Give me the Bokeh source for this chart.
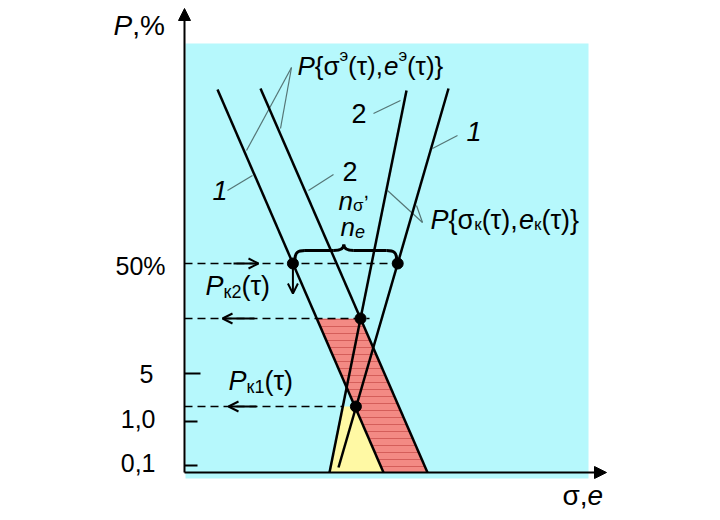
from bokeh.plotting import figure
from bokeh.models import Range1d, Arrow, NormalHead, OpenHead
from bokeh.core.properties import value
from bokeh.embed import file_html
from bokeh.resources import INLINE

FONT = "Liberation Sans"
TEXT_SHIFT = -10

# ---- schematic data (page-pixel coordinates, y grows downward) ----
panel_x = [185, 588]
panel_y = [43, 478]
axis_origin = [184, 472]
axis_x_end = 606
axis_y_end = 8

tick_labels = ["50%", "5", "1,0", "0,1"]
tick_y = [263, 373, 421, 465]
tick_len = [0, 16, 13, 13]
tick_label_right = [165, 153, 155, 155]
tick_label_base = [275, 383, 428, 472]

# four straight lines: sigma_e 1, sigma_e 2, sigma_k 2, sigma_k 1
line_names = ["e1", "e2", "k2", "k1"]
line_x0 = [217, 260, 406, 448]
line_y0 = [89, 88, 90, 88]
line_x1 = [383, 427, 329, 338]
line_y1 = [472, 472, 472, 467]

level_50 = 263
level_pk2 = 318
level_pk1 = 406

leader_x0 = [291, 291, 227, 308, 373, 432, 387, 416]
leader_y0 = [67, 67, 190, 190, 113, 148, 190, 205]
leader_x1 = [246, 280, 252, 333, 400, 457, 422, 422]
leader_y1 = [150, 128, 175, 174, 100, 135, 222, 222]

W = {"P": .667, "{": .334, "}": .334, "(": .333, ")": .333, ",": .278,
     "e": .556, "n": .556, "%": .889, "σ": .617, "τ": .438, "к": .438,
     "э": .5, "'": .191}
for d in "0123456789":
    W[d] = .556


def tw(t, s):
    return sum(W.get(c, .556) for c in t) * s


def line_x(name, y):
    i = line_names.index(name)
    return line_x0[i] + (y - line_y0[i]) * (line_x1[i] - line_x0[i]) / (line_y1[i] - line_y0[i])


p = figure(width=712, height=518, x_range=Range1d(0, 712), y_range=Range1d(518, 0),
           output_backend="svg", toolbar_location=None, min_border=0,
           x_axis_location=None, y_axis_location=None)
p.grid.visible = False
p.outline_line_color = None
p.background_fill_color = "white"
p.border_fill_color = "white"


def rich(x, y, pieces, align="left"):
    total = sum(tw(t, s) for t, s, st, dy in pieces)
    if align == "right":
        x -= total
    elif align == "center":
        x -= total / 2
    for t, s, st, dy in pieces:
        p.text(x=[x], y=[y + dy + TEXT_SHIFT], text=[t], text_font=value(FONT),
               text_font_size=f"{s}px", text_font_style=st,
               text_baseline="alphabetic", text_align="left", text_color="black")
        x += tw(t, s)


# background panel
p.quad(left=[panel_x[0]], right=[panel_x[1]], top=[panel_y[0]], bottom=[panel_y[1]],
       fill_color="#B6F8FC", line_color=None)

# red hatched band between e1 and e2, below P_k2
bot = axis_origin[1]
red_x = [line_x("e1", level_pk2), line_x("e2", level_pk2), line_x("e2", bot), line_x("e1", bot)]
red_y = [level_pk2, level_pk2, bot, bot]
p.patch(red_x, red_y, fill_color="#F38A84", line_color=None,
        hatch_pattern="-", hatch_color="#D45E5A", hatch_scale=7, hatch_weight=1)

# yellow triangle between k2 and e1, below P_k1
yel_x = [line_x("k2", level_pk1), line_x("e1", level_pk1), line_x("e1", bot), line_x("k2", bot)]
yel_y = [level_pk1, level_pk1, bot, bot]
p.patch(yel_x, yel_y, fill_color="#FFF9A4", line_color=None)

# dashed levels
p.segment(x0=[axis_origin[0]] * 3,
          y0=[level_50, level_pk2, level_pk1],
          x1=[line_x("k1", level_50), line_x("e2", level_pk2) + 9, line_x("k2", level_pk1)],
          y1=[level_50, level_pk2, level_pk1],
          line_color="black", line_width=1.5, line_dash="8 5")

# tick marks
for ty, tl in zip(tick_y, tick_len):
    if tl:
        p.segment(x0=[axis_origin[0]], y0=[ty], x1=[axis_origin[0] + tl], y1=[ty],
                  line_color="black", line_width=2)

# leaders
p.segment(x0=leader_x0, y0=leader_y0, x1=leader_x1, y1=leader_y1,
          line_color="#557575", line_width=1.2)

# the four lines
p.segment(x0=line_x0, y0=line_y0, x1=line_x1, y1=line_y1, line_color="black", line_width=2.5)

# axes
p.add_layout(Arrow(end=NormalHead(size=12, fill_color="black", line_color="black"),
                   x_start=axis_origin[0], y_start=axis_origin[1],
                   x_end=axis_origin[0], y_end=axis_y_end, line_width=2))
p.add_layout(Arrow(end=NormalHead(size=12, fill_color="black", line_color="black"),
                   x_start=axis_origin[0], y_start=axis_origin[1],
                   x_end=axis_x_end, y_end=axis_origin[1], line_width=2))

# dots
dot_x = [line_x("e1", level_50), line_x("k1", level_50), line_x("e2", level_pk2), line_x("e1", level_pk1) + 1]
dot_y = [level_50, level_50, level_pk2, level_pk1]
p.scatter(dot_x, dot_y, size=11, fill_color="black", line_color="black")

# small arrows
p.add_layout(Arrow(end=OpenHead(size=10, line_width=2), x_start=233, y_start=level_50,
                   x_end=258, y_end=level_50, line_width=2))
p.add_layout(Arrow(end=OpenHead(size=10, line_width=2), x_start=254, y_start=level_pk2,
                   x_end=222, y_end=level_pk2, line_width=2))
p.add_layout(Arrow(end=OpenHead(size=10, line_width=2), x_start=256, y_start=level_pk1,
                   x_end=228, y_end=level_pk1, line_width=2))
p.add_layout(Arrow(end=OpenHead(size=10, line_width=2), x_start=dot_x[0], y_start=level_50 + 4,
                   x_end=dot_x[0], y_end=293, line_width=2))

# brace
bx0, bx1 = dot_x[0] + 2, dot_x[1] - 1
bm = (bx0 + bx1) / 2 - 2
p.bezier(x0=[bx0, bm - 10, bm, bx1 - 10], y0=[259, 250, 244, 250],
         x1=[bx0 + 10, bm, bm + 10, bx1], y1=[250, 244, 250, 259],
         cx0=[bx0, bm - 4, bm, bx1 - 3], cy0=[252, 250, 248, 250],
         cx1=[bx0 + 3, bm, bm + 4, bx1], cy1=[250, 248, 250, 252],
         line_color="black", line_width=3)
p.segment(x0=[bx0 + 10, bm + 10], y0=[250, 250], x1=[bm - 10, bx1 - 10], y1=[250, 250],
          line_color="black", line_width=3)

# tick labels
for t, r, b in zip(tick_labels, tick_label_right, tick_label_base):
    rich(r, b, [(t, 25, "normal", 0)], align="right")

# axis titles
rich(113, 35, [("P", 28, "italic", 0), (",%", 28, "normal", 0)])
rich(562, 505, [("σ,", 28, "normal", 0), ("e", 28, "italic", 0)])

# curve labels
S, s = 26, 17
rich(297, 75, [("P", S, "italic", 0), ("{σ", S, "normal", 0), ("э", s, "normal", -10),
               ("(τ),", S, "normal", 0), ("e", S, "italic", 0), ("э", s, "normal", -10),
               ("(τ)}", S, "normal", 0)])
rich(430, 229, [("P", S + 1, "italic", 0), ("{σ", S + 1, "normal", 0), ("к", s, "normal", 5),
                ("(τ),", S + 1, "normal", 0), ("e", S + 1, "italic", 0), ("к", s, "normal", 5),
                ("(τ)}", S + 1, "normal", 0)])
rich(205, 295, [("P", 27, "italic", 0), ("к2", 18, "normal", 6), ("(τ)", 27, "normal", 0)])
rich(228, 390, [("P", 27, "italic", 0), ("к1", 18, "normal", 6), ("(τ)", 27, "normal", 0)])
rich(338, 210, [("n", 26, "italic", 0), ("σ", 17, "normal", 5), (",", 20, "normal", -10)])
rich(340, 236, [("n", 26, "italic", 0), ("e", 18, "italic", 5)])

for t, x, y, st in [("1", 212, 200, "italic"), ("2", 342, 181, "normal"),
                    ("2", 351, 123, "normal"), ("1", 466, 141, "italic")]:
    rich(x, y, [(t, 27, st, 0)])

open("out.html", "w").write(file_html(p, INLINE))
